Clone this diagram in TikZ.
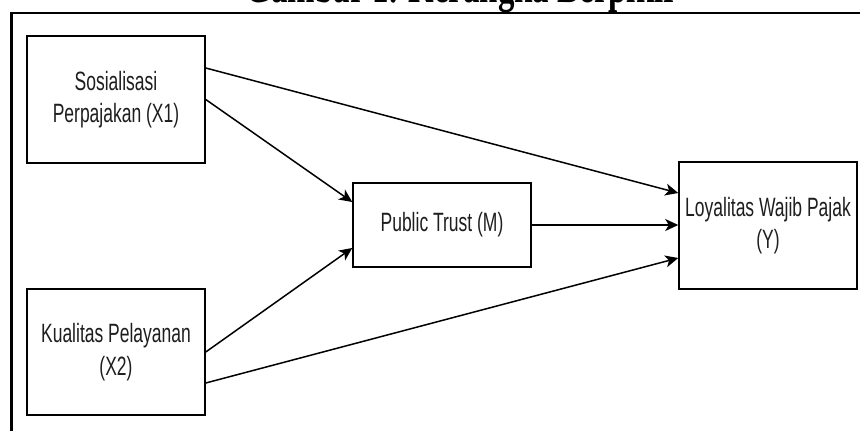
\documentclass[tikz,border=0pt]{standalone}
\usepackage{fontspec}
\usetikzlibrary{arrows.meta,calc}
\newfontfamily\boxfont[FakeStretch=0.66]{Liberation Sans}
\newfontfamily\ttlfont[FakeStretch=0.7,BoldFont={Liberation Serif Bold}]{Liberation Serif}
\definecolor{txt}{HTML}{1E1E1E}
\tikzset{
  varbox/.style={draw=black, line width=1.5pt, rectangle, inner sep=0pt,
    minimum width=178pt, align=center, text=txt,
    font=\boxfont\fontsize{26.5}{32.5}\selectfont},
  link/.style={line width=1.5pt, -{Stealth[length=13pt,width=12pt,inset=3.5pt]}},
  frameline/.style={line width=2.4pt}
}
\begin{document}
\begin{tikzpicture}[x=1pt,y=-1pt]
\useasboundingbox (0,0) rectangle (860,431);
\clip (0,0) rectangle (860,431);
% cut-off title and frame
\node[anchor=base, inner sep=0pt, font=\ttlfont\bfseries\fontsize{47}{50}\selectfont] (title) at (462,2.5) {Gambar 1. Kerangka Berpikir};
\coordinate (fbl) at (11.5,440);
\coordinate (ftl) at (11.5,13);
\coordinate (ftr) at (870,13);
\draw[frameline] (fbl) -- (ftl) -- (ftr);
% boxes
\node[varbox, minimum height=127pt] (X1) at (116,99.5) {Sosialisasi\\Perpajakan (X1)};
\node[varbox, minimum height=126pt] (X2) at (116,352) {Kualitas Pelayanan\\(X2)};
\node[varbox, minimum height=84pt] (M) at (442,225) {Public Trust (M)};
\node[varbox, minimum height=127pt] (Y) at (768,225.5) {Loyalitas Wajib Pajak\\(Y)};
% connectors
\draw[link] ($(X1.east)+(0,-31.5)$) -- ($(Y.west)+(0,-32.5)$);
\draw[link] (X1.east) -- ($(M.west)+(0,-23)$);
\draw[link] (X2.east) -- ($(M.west)+(0,23)$);
\draw[link] ($(X2.east)+(0,31)$) -- ($(Y.west)+(0,32.5)$);
\draw[link] (M.east) -- (M.east -| Y.west);
\end{tikzpicture}
\end{document}
